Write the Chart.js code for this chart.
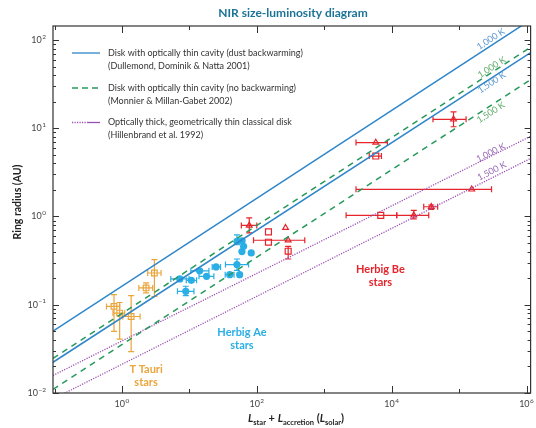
<!DOCTYPE html>
<html>
<head>
<meta charset="utf-8">
<script src="https://cdn.jsdelivr.net/npm/chart.js@4.4.1/dist/chart.umd.min.js"></script>
<style>
  html, body { margin: 0; padding: 0; background: #fff; }
</style>
</head>
<body>
<canvas id="chartCanvas" width="536" height="428"></canvas>
<script>
// ---- axis ranges / ticks ----
const xRange = [0.095, 1.15e6];
const yRange = [0.01, 144];
const xDecades = [-1, 0, 1, 2, 3, 4, 5, 6];
const yDecades = [-2, -1, 0, 1, 2];

// ---- model lines (ring radius at left and right end of the L range) ----
const modelL = [0.095, 1.15e6];
const blue1000 = [0.0501, 169];
const blue1500 = [0.0223, 71.9];
const green1000 = [0.0247, 83.0];
const green1500 = [0.0110, 35.5];
const purple1000 = [0.0158, 8.1];
const purple1500 = [0.00855, 4.55];

// line labels: [L, R]
const lineLabelText = ['1,000 K', '1,000 K', '1,500 K', '1,500 K', '1,000 K', '1,500 K'];
const lineLabelL = [2.96e5, 3.05e5, 3.05e5, 2.96e5, 2.96e5, 3.05e5];
const lineLabelR = [102.6, 49.0, 33.0, 15.1, 5.30, 3.27];

// ---- T Tauri stars ----
const ttL = [3.03, 2.28, 0.763, 0.925, 1.37];
const ttR = [0.229, 0.155, 0.0958, 0.0805, 0.0736];
const ttLlo = [2.41, 1.78, 0.590, 0.737, 1.03];
const ttLhi = [3.80, 2.86, 0.925, 1.10, 1.86];
const ttRlo = [0.124, 0.136, 0.0498, 0.0407, 0.0294];
const ttRhi = [0.324, 0.177, 0.130, 0.106, 0.127];

// ---- Herbig Ae stars ----
const aeL = [7.22, 10.7, 14.2, 18.0, 8.85, 24.9, 50.8, 39.7, 55.7, 50.8, 60.5, 63.7, 60.2, 82.7];
const aeR = [0.196, 0.189, 0.242, 0.210, 0.142, 0.268, 0.285, 0.219, 0.219, 0.524, 0.53, 0.459, 0.40, 0.387];
const aeLlo = [5.3, 9.0, 10.5, 13.9, 6.66, 21.8, 34.3, 34.0, 55.7, 50.8, 60.5, 63.7, 60.2, 82.7];
const aeLhi = [9.9, 12.8, 19.5, 23.1, 11.7, 29.0, 75.5, 46.0, 55.7, 50.8, 60.5, 63.7, 60.2, 82.7];
const aeRlo = [0.186, 0.189, 0.242, 0.210, 0.127, 0.268, 0.245, 0.219, 0.219, 0.48, 0.53, 0.459, 0.40, 0.387];
const aeRhi = [0.206, 0.189, 0.242, 0.210, 0.162, 0.268, 0.330, 0.219, 0.219, 0.62, 0.53, 0.459, 0.40, 0.387];

// ---- Herbig Be stars (triangles) ----
const beTriL = [77.3, 267, 292, 82700, 5820, 154000, 21300, 38700];
const beTriR = [0.791, 0.745, 0.538, 12.6, 6.88, 2.03, 1.03, 1.29];
const beTriLlo = [59, 267, 89.4, 41000, 2960, 2960, 11900, 29900];
const beTriLhi = [100, 267, 515, 127000, 8650, 303000, 35500, 48100];
const beTriRlo = [0.653, 0.745, 0.538, 10.4, 6.88, 2.03, 0.94, 1.20];
const beTriRhi = [0.966, 0.745, 0.538, 15.3, 6.88, 2.03, 1.17, 1.35];

// ---- Herbig Be stars (squares) ----
const beSqL = [149, 149, 292, 5820, 6890];
const beSqR = [0.670, 0.511, 0.404, 4.84, 1.03];
const beSqLlo = [149, 149, 292, 4650, 2110];
const beSqLhi = [149, 149, 292, 7060, 11900];
const beSqRlo = [0.670, 0.511, 0.330, 4.84, 1.03];
const beSqRhi = [0.670, 0.511, 0.459, 4.84, 1.03];

// group labels: [L, R]
const groupText = [['T Tauri', 'stars'], ['Herbig Ae', 'stars'], ['Herbig Be', 'stars']];
const groupL = [2.28, 60.2, 6820];
const groupR = [0.0156, 0.0405, 0.211];

const BLUE = '#2f86c9', GREEN = '#27995a', PURPLE = '#9a4fb3';
const ORANGE = '#eba53b', CYAN = '#29aee6', RED = '#e5242b';
const FONT = 'Lato, "Open Sans", sans-serif';

function points(L, R, Llo, Lhi, Rlo, Rhi) {
    return L.map((l, i) => ({ x: l, y: R[i], xlo: Llo[i], xhi: Lhi[i], ylo: Rlo[i], yhi: Rhi[i] }));
}

function modelLine(vals, color, dash, width) {
    return {
        data: modelL.map((l, i) => ({ x: l, y: vals[i] })),
        showLine: true, pointRadius: 0, borderColor: color,
        borderWidth: width, borderDash: dash, fill: false
    };
}

// error bars behind the markers
const errorBars = {
    id: 'errorBars',
    beforeDatasetsDraw(chart) {
        const ctx = chart.ctx, xs = chart.scales.x, ys = chart.scales.y;
        ctx.save();
        chart.data.datasets.forEach(ds => {
            if (!ds.errorBars) return;
            ctx.strokeStyle = ds.borderColor;
            ctx.lineWidth = 1.2;
            ds.data.forEach(p => {
                const px = xs.getPixelForValue(p.x), py = ys.getPixelForValue(p.y);
                const cap = 3;
                if (p.xhi > p.xlo) {
                    const a = xs.getPixelForValue(p.xlo), b = xs.getPixelForValue(p.xhi);
                    ctx.beginPath();
                    ctx.moveTo(a, py); ctx.lineTo(b, py);
                    ctx.moveTo(a, py - cap); ctx.lineTo(a, py + cap);
                    ctx.moveTo(b, py - cap); ctx.lineTo(b, py + cap);
                    ctx.stroke();
                }
                if (p.yhi > p.ylo) {
                    const a = ys.getPixelForValue(p.ylo), b = ys.getPixelForValue(p.yhi);
                    ctx.beginPath();
                    ctx.moveTo(px, a); ctx.lineTo(px, b);
                    ctx.moveTo(px - cap, a); ctx.lineTo(px + cap, a);
                    ctx.moveTo(px - cap, b); ctx.lineTo(px + cap, b);
                    ctx.stroke();
                }
            });
        });
        ctx.restore();
    }
};

function drawPow(ctx, x, y, exp, align) {
    const e = exp < 0 ? '\u2212' + Math.abs(exp) : String(exp);
    ctx.font = '9px ' + FONT;
    const wb = ctx.measureText('10').width;
    ctx.font = '6.5px ' + FONT;
    const we = ctx.measureText(e).width;
    const total = wb + we + 0.5;
    const x0 = align === 'center' ? x - total / 2 : x - total;
    ctx.textAlign = 'left';
    ctx.textBaseline = 'middle';
    ctx.font = '9px ' + FONT;
    ctx.fillText('10', x0, y);
    ctx.font = '6.5px ' + FONT;
    ctx.fillText(e, x0 + wb + 0.5, y - 3.5);
}

// frame, inward ticks, labels, legend, annotations
const decorations = {
    id: 'decorations',
    afterDraw(chart) {
        const ctx = chart.ctx, xs = chart.scales.x, ys = chart.scales.y;
        const { left, right, top, bottom } = chart.chartArea;
        ctx.save();

        // frame
        ctx.strokeStyle = '#333';
        ctx.lineWidth = 1.2;
        ctx.strokeRect(left, top, right - left, bottom - top);

        // x ticks (bottom and top)
        ctx.lineWidth = 1;
        xDecades.forEach(d => {
            const px = Math.round(xs.getPixelForValue(Math.pow(10, d))) + 0.5;
            if (px < left || px > right) return;
            const len = d % 2 === 0 ? 7 : 4;
            ctx.beginPath();
            ctx.moveTo(px, bottom); ctx.lineTo(px, bottom - len);
            ctx.moveTo(px, top); ctx.lineTo(px, top + len);
            ctx.stroke();
        });
        // y ticks (left and right), with minor ticks
        yDecades.forEach(d => {
            for (let m = 1; m < 10; m++) {
                const v = m * Math.pow(10, d);
                if (v < yRange[0] || v > yRange[1]) continue;
                const py = Math.round(ys.getPixelForValue(v)) + 0.5;
                const len = m === 1 ? 6 : 3;
                ctx.beginPath();
                ctx.moveTo(left, py); ctx.lineTo(left + len, py);
                ctx.moveTo(right, py); ctx.lineTo(right - len, py);
                ctx.stroke();
            }
        });

        // tick labels
        ctx.fillStyle = '#444';
        xDecades.forEach(d => {
            if (d % 2 !== 0) return;
            drawPow(ctx, xs.getPixelForValue(Math.pow(10, d)), bottom + 11, d, 'center');
        });
        yDecades.forEach(d => {
            drawPow(ctx, left - 7, ys.getPixelForValue(Math.pow(10, d)), d, 'right');
        });

        // title
        ctx.fillStyle = '#1b7396';
        ctx.font = 'bold 12px ' + FONT;
        ctx.textAlign = 'center';
        ctx.textBaseline = 'middle';
        ctx.fillText('NIR size-luminosity diagram', 293, 13);

        // y axis title
        ctx.save();
        ctx.translate(18, 202);
        ctx.rotate(-Math.PI / 2);
        ctx.fillStyle = '#222';
        ctx.font = 'bold 10.5px ' + FONT;
        ctx.fillText('Ring radius (AU)', 0, 0);
        ctx.restore();

        // x axis title with subscripts
        const parts = [
            ['L', 'italic bold 11px', 0], ['star', 'bold 7.5px', 3], [' + ', 'bold 11px', 0],
            ['L', 'italic bold 11px', 0], ['accretion', 'bold 7.5px', 3], [' (', 'bold 11px', 0],
            ['L', 'italic bold 11px', 0], ['solar', 'bold 7.5px', 3], [')', 'bold 11px', 0]
        ];
        let w = 0;
        parts.forEach(p => { ctx.font = p[1] + ' ' + FONT; w += ctx.measureText(p[0]).width; });
        let cx = 296 - w / 2;
        ctx.fillStyle = '#222';
        ctx.textAlign = 'left';
        ctx.textBaseline = 'alphabetic';
        parts.forEach(p => {
            ctx.font = p[1] + ' ' + FONT;
            ctx.fillText(p[0], cx, 422 + p[2]);
            cx += ctx.measureText(p[0]).width;
        });

        // legend
        const lx = left + 19, tx = left + 55;
        const rows = [
            [53, BLUE, 'solid', 'Disk with optically thin cavity (dust backwarming)', '(Dullemond, Dominik & Natta 2001)'],
            [88, GREEN, 'dash', 'Disk with optically thin cavity (no backwarming)', '(Monnier & Millan-Gabet 2002)'],
            [122.5, PURPLE, 'dot', 'Optically thick, geometrically thin classical disk', '(Hillenbrand et al. 1992)']
        ];
        rows.forEach(r => {
            const y = r[0];
            ctx.strokeStyle = r[1];
            ctx.lineWidth = 1.3;
            ctx.beginPath();
            if (r[2] === 'dash') {
                ctx.setLineDash([6, 4]);
                ctx.moveTo(lx, y); ctx.lineTo(lx + 28, y);
                ctx.stroke();
            } else if (r[2] === 'dot') {
                ctx.setLineDash([1.2, 1.3]);
                ctx.moveTo(lx, y); ctx.lineTo(lx + 15, y);
                ctx.stroke();
                ctx.setLineDash([]);
                ctx.beginPath();
                ctx.moveTo(lx + 15, y); ctx.lineTo(lx + 28, y);
                ctx.stroke();
            } else {
                ctx.moveTo(lx, y); ctx.lineTo(lx + 28, y);
                ctx.stroke();
            }
            ctx.setLineDash([]);
            ctx.fillStyle = '#333';
            ctx.font = '9px ' + FONT;
            ctx.textBaseline = 'middle';
            ctx.fillText(r[3], tx, y);
            ctx.fillText(r[4], tx, y + 13);
        });

        // labels along the model lines
        const labelColors = ['#5e97d2', '#62ad6c', '#5e97d2', '#62ad6c', '#9a6cb8', '#9a6cb8'];
        const labelAngles = [-33, -33, -33, -33, -27, -27];
        ctx.font = '9px ' + FONT;
        ctx.textAlign = 'center';
        ctx.textBaseline = 'middle';
        lineLabelText.forEach((t, i) => {
            ctx.save();
            ctx.translate(xs.getPixelForValue(lineLabelL[i]), ys.getPixelForValue(lineLabelR[i]));
            ctx.rotate(labelAngles[i] * Math.PI / 180);
            ctx.fillStyle = labelColors[i];
            ctx.fillText(t, 0, 0);
            ctx.restore();
        });

        // group labels
        const groupColors = [ORANGE, CYAN, RED];
        ctx.font = 'bold 11px ' + FONT;
        groupText.forEach((lines, i) => {
            const px = xs.getPixelForValue(groupL[i]), py = ys.getPixelForValue(groupR[i]);
            ctx.fillStyle = groupColors[i];
            ctx.fillText(lines[0], px, py - 6.5);
            ctx.fillText(lines[1], px, py + 6.5);
        });

        ctx.restore();
    }
};

const canvas = document.getElementById('chartCanvas');
const ctx = canvas.getContext('2d');

new Chart(ctx, {
    type: 'scatter',
    data: {
        datasets: [
            modelLine(blue1000, BLUE, [], 1.5),
            modelLine(blue1500, BLUE, [], 1.5),
            modelLine(green1000, GREEN, [6, 5], 1.5),
            modelLine(green1500, GREEN, [6, 5], 1.5),
            modelLine(purple1000, PURPLE, [1.2, 1.3], 1.3),
            modelLine(purple1500, PURPLE, [1.2, 1.3], 1.3),
            {
                label: 'T Tauri', errorBars: true,
                data: points(ttL, ttR, ttLlo, ttLhi, ttRlo, ttRhi),
                pointStyle: 'rect', pointRadius: 4, borderColor: ORANGE,
                backgroundColor: 'rgba(255,255,255,0)', pointBorderWidth: 1.2
            },
            {
                label: 'Herbig Ae', errorBars: true,
                data: points(aeL, aeR, aeLlo, aeLhi, aeRlo, aeRhi),
                pointStyle: 'circle', pointRadius: 3.6, borderColor: CYAN,
                backgroundColor: CYAN, pointBorderWidth: 0
            },
            {
                label: 'Herbig Be triangles', errorBars: true,
                data: points(beTriL, beTriR, beTriLlo, beTriLhi, beTriRlo, beTriRhi),
                pointStyle: 'triangle', pointRadius: 3.3, borderColor: RED,
                backgroundColor: 'rgba(255,255,255,0)', pointBorderWidth: 1.2
            },
            {
                label: 'Herbig Be squares', errorBars: true,
                data: points(beSqL, beSqR, beSqLlo, beSqLhi, beSqRlo, beSqRhi),
                pointStyle: 'rect', pointRadius: 4.2, borderColor: RED,
                backgroundColor: 'rgba(255,255,255,0)', pointBorderWidth: 1.2
            }
        ]
    },
    options: {
        responsive: false,
        animation: false,
        layout: { padding: { top: 26, right: 2, left: 0, bottom: 0 } },
        plugins: {
            legend: { display: false },
            tooltip: { enabled: false },
            title: { display: false }
        },
        scales: {
            x: {
                type: 'logarithmic', min: xRange[0], max: xRange[1],
                grid: { display: false }, border: { display: false },
                ticks: { display: false },
                afterFit: s => { s.height = 35; }
            },
            y: {
                type: 'logarithmic', min: yRange[0], max: yRange[1],
                grid: { display: false }, border: { display: false },
                ticks: { display: false },
                afterFit: s => { s.width = 53; }
            }
        }
    },
    plugins: [errorBars, decorations]
});
</script>
</body>
</html>
